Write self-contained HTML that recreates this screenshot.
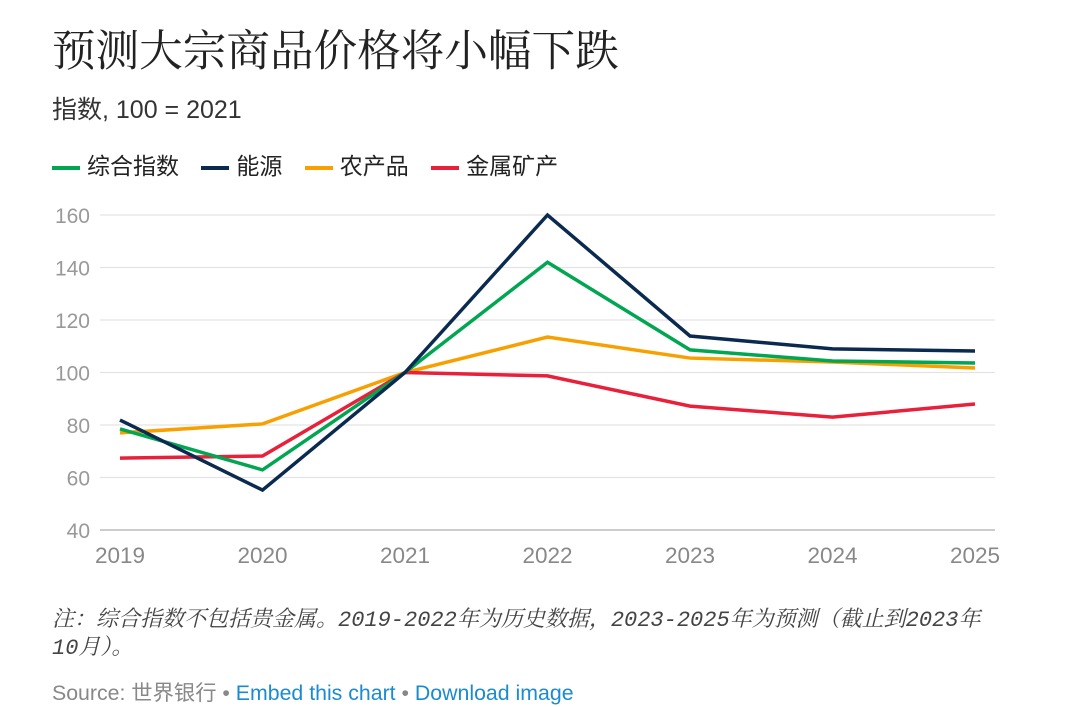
<!DOCTYPE html>
<html><head><meta charset="utf-8">
<style>
body{margin:0;background:#fff;width:1080px;height:706px;overflow:hidden;font-family:"Liberation Sans","Noto Sans CJK SC",sans-serif;}
.t{position:absolute;white-space:nowrap}
</style></head><body>
<div class="t" style="left:52px;top:17px;font-size:43.6px;color:#222;font-family:'Noto Serif CJK SC','Noto Sans CJK SC',serif;">预测大宗商品价格将小幅下跌</div>
<div class="t" style="left:52px;top:90px;font-size:25px;color:#333;">指数, 100 = 2021</div>
<div class="t" style="left:52px;top:147px;font-size:23px;color:#222;">
<span><span style="display:inline-block;width:28px;height:4px;background:#00a651;vertical-align:middle;margin-right:7px"></span>综合指数</span>
<span style="margin-left:16px"><span style="display:inline-block;width:28px;height:4px;background:#0a2a4f;vertical-align:middle;margin-right:7px"></span>能源</span>
<span style="margin-left:16px"><span style="display:inline-block;width:28px;height:4px;background:#f7a000;vertical-align:middle;margin-right:7px"></span>农产品</span>
<span style="margin-left:16px"><span style="display:inline-block;width:28px;height:4px;background:#e8203a;vertical-align:middle;margin-right:7px"></span>金属矿产</span>
</div>
<svg id="chart" width="1080" height="706" style="position:absolute;left:0;top:0"></svg>
<div class="t" style="left:52px;top:607px;font-size:22px;color:#444;font-style:italic;line-height:28px;font-family:'Liberation Mono','Noto Serif CJK SC',monospace;">注：综合指数不包括贵金属。2019-2022年为历史数据，2023-2025年为预测（截止到2023年<br>10月）。</div>
<div class="t" style="left:52px;top:676px;font-size:21.3px;color:#888;">Source: 世界银行 • <span style="color:#1a8bd1">Embed this chart</span> • <span style="color:#1a8bd1">Download image</span></div>
<script>
const years=["2019","2020","2021","2022","2023","2024","2025"];
const yTicks=[40,60,80,100,120,140,160];
const composite=[78.5,62.9,100,142,108.6,104.4,103.6];
const energy=[81.9,55.2,100,160,113.9,109,108.2];
const agri=[77,80.4,100,113.5,105.5,104,101.7];
const metals=[67.4,68.2,100,98.7,87.2,83,88];
const NS="http://www.w3.org/2000/svg";
const svg=document.getElementById('chart');
const xs=i=>120+i*142.5;
const ys=v=>530-(v-40)*2.625;
function mk(tag,at){const e=document.createElementNS(NS,tag);for(const k in at)e.setAttribute(k,at[k]);svg.appendChild(e);return e;}
yTicks.forEach(v=>{
 const l=mk('line',{x1:100,x2:995,y1:ys(v),y2:ys(v),stroke:v===40?'#bbb':'#e3e3e3','stroke-width':v===40?1.5:1.2});
 
 
 const t=mk('text',{x:90,y:ys(v)+8,'text-anchor':'end','font-size':21,fill:'#999','font-family':'Liberation Sans'});
 t.textContent=v;
 
 
});
years.forEach((y,i)=>{
 const t=mk('text',{x:xs(i),y:563,'text-anchor':'middle','font-size':22.5,fill:'#888','font-family':'Liberation Sans'});
 t.textContent=y;
 
 
});
[[agri,'#f7a000','agri'],[metals,'#e8203a','metals'],[composite,'#00a651','composite'],[energy,'#0a2a4f','energy']].forEach(([d,c,n])=>{
 const p=mk('polyline',{points:d.map((v,i)=>xs(i)+','+ys(v)).join(' '),fill:'none',stroke:c,'stroke-width':3.5,'stroke-linejoin':'miter'});
 
 
});
</script>
</body></html>
